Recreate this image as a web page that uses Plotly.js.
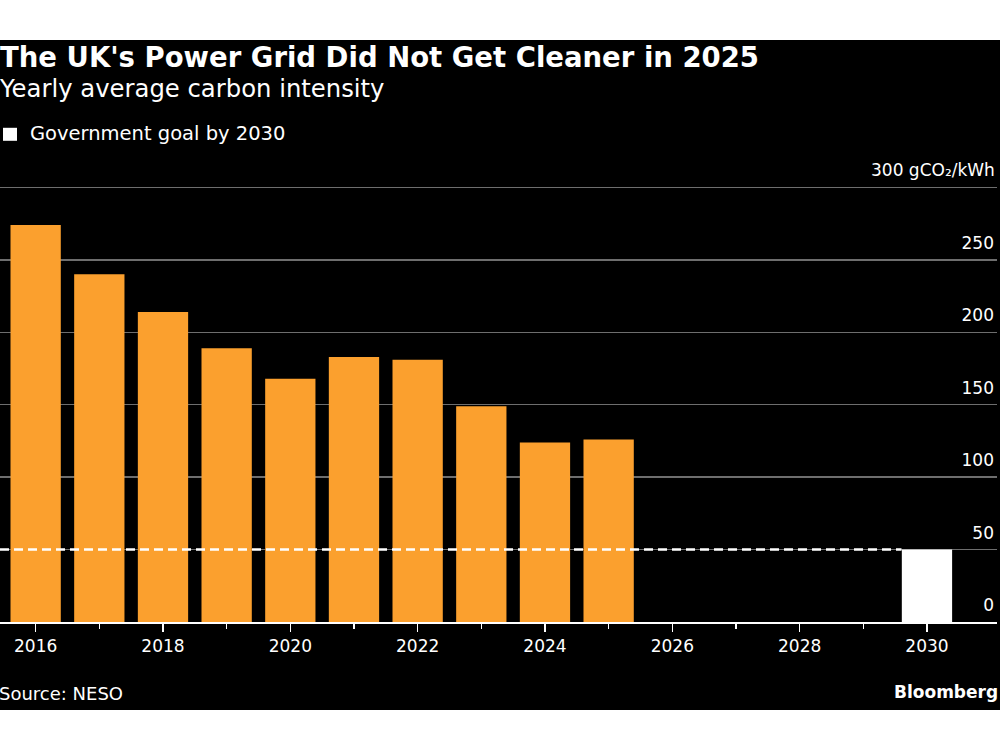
<!DOCTYPE html>
<html>
<head>
<meta charset="utf-8">
<script src="https://cdn.plot.ly/plotly-3.0.1.min.js"></script>
<style>
html, body { margin: 0; padding: 0; background: #ffffff; }
#chart { position: absolute; left: 0; top: 40px; width: 1000px; height: 670px; }
</style>
</head>
<body>
<div id="chart"></div>
<script>
// Data
const years = [2016, 2017, 2018, 2019, 2020, 2021, 2022, 2023, 2024, 2025];
const intensity = [274, 240, 214, 189, 168, 183, 181, 149, 124, 126];
const goalYear = [2030];
const goalValue = [50];
const goalLabel = "Government goal by 2030";
const yTickVals = [0, 50, 100, 150, 200, 250, 300];
const yTickText = ["0", "50", "100", "150", "200", "250", "300 gCO₂/kWh"];
const xTickVals = [2016, 2018, 2020, 2022, 2024, 2026, 2028, 2030];

const FONT = "DejaVu Sans, Verdana, sans-serif";
const ORANGE = "#FBA02E";

const traces = [
  {
    type: "bar", x: years, y: intensity, width: 0.79,
    marker: { color: ORANGE, line: { width: 0 } },
    showlegend: false, hoverinfo: "x+y"
  },
  {
    type: "bar", x: goalYear, y: goalValue, width: 0.79,
    name: goalLabel,
    marker: { color: "#ffffff", line: { width: 0 } },
    showlegend: false, hoverinfo: "x+y"
  }
];

const YMAX = 330;
const PXU = 1.447;          // px per unit
const PH = YMAX * PXU;      // plot height in px
const PW = 997;             // plot width in px
const ZERO = 581.7;         // y pixel (in div) of the baseline
const TOP = ZERO - PH;
const BOTTOM = 670 - ZERO;
const py = (pix) => (ZERO - pix) / PH;   // div pixel y -> paper y
const px = (pix) => pix / PW;            // div pixel x -> paper x

const last = yTickVals.length - 1;
// The top label (with unit) is drawn as an annotation so that its width
// does not make Plotly hide the 2030 x tick beneath it.
const axisTickText = yTickText.map((t, i) => (i === last ? "" : t));

const layout = {
  width: 1000, height: 670,
  paper_bgcolor: "#000000", plot_bgcolor: "#000000",
  margin: { l: 0, r: 3, t: TOP, b: BOTTOM },
  barmode: "overlay",
  showlegend: false,
  font: { family: FONT, color: "#ffffff", size: 17 },
  title: {
    text: "<b>The UK's Power Grid Did Not Get Cleaner in 2025</b>",
    x: 0, xref: "container", xanchor: "left",
    y: 1 - 17 / 670, yref: "container", yanchor: "middle",
    font: { family: FONT, size: 27.5, color: "#ffffff" }
  },
  annotations: [
    { text: "Yearly average carbon intensity", xref: "paper", yref: "paper",
      x: 0, xshift: -2, y: py(49), xanchor: "left", yanchor: "middle", showarrow: false,
      borderpad: 0, font: { family: FONT, size: 24.3, color: "#ffffff" } },
    { text: goalLabel, xref: "paper", yref: "paper",
      x: px(29), y: py(94), xanchor: "left", yanchor: "middle", showarrow: false,
      borderpad: 0, font: { family: FONT, size: 19.5, color: "#ffffff" } },
    { text: yTickText[last], xref: "paper", yref: "y",
      x: 1, xshift: -1, y: yTickVals[last], yshift: 17, xanchor: "right", yanchor: "middle",
      showarrow: false, borderpad: 0, font: { family: FONT, size: 17, color: "#ffffff" } },
    { text: "Source: NESO", xref: "paper", yref: "paper",
      x: 0, xshift: -2, y: py(653), xanchor: "left", yanchor: "middle", showarrow: false,
      borderpad: 0, font: { family: FONT, size: 18, color: "#ffffff" } },
    { text: "<b>Bloomberg</b>", xref: "paper", yref: "paper",
      x: 1, xshift: 2, y: py(652), xanchor: "right", yanchor: "middle", showarrow: false,
      borderpad: 0, font: { family: FONT, size: 17, color: "#ffffff" } }
  ],
  xaxis: {
    range: [2015.44, 2031.1], fixedrange: true,
    tickmode: "array", tickvals: xTickVals, ticktext: xTickVals.map(String),
    ticks: "outside", ticklen: 8, tickwidth: 1.5, tickcolor: "#ffffff",
    minor: { dtick: 1, tick0: 2016, ticks: "outside", ticklen: 5, tickwidth: 1.5, tickcolor: "#ffffff", showgrid: false },
    showline: true, linecolor: "#ffffff", linewidth: 1.5,
    showgrid: false, zeroline: false,
    tickfont: { family: FONT, size: 17, color: "#ffffff" }
  },
  yaxis: {
    range: [0, YMAX], fixedrange: true, side: "right",
    tickmode: "array", tickvals: yTickVals, ticktext: axisTickText,
    ticklabelposition: "inside top", ticklabelshift: -5, ticks: "",
    showgrid: true, gridcolor: "#6e6e6e", gridwidth: 1.5,
    zeroline: false, showline: false,
    tickfont: { family: FONT, size: 17, color: "#ffffff" }
  },
  shapes: [
    { type: "line", xref: "x", yref: "y", x0: 2015.44, x1: goalYear[0] - 0.4,
      y0: goalValue[0], y1: goalValue[0], layer: "above",
      line: { color: "#ffffff", width: 2.5, dash: "9px,5px" } },
    { type: "rect", xref: "paper", yref: "paper",
      x0: px(3), x1: px(17), y0: py(101), y1: py(88),
      fillcolor: "#ffffff", line: { width: 0 } }
  ]
};

Plotly.newPlot("chart", traces, layout, { displayModeBar: false, staticPlot: true });
</script>
</body>
</html>
